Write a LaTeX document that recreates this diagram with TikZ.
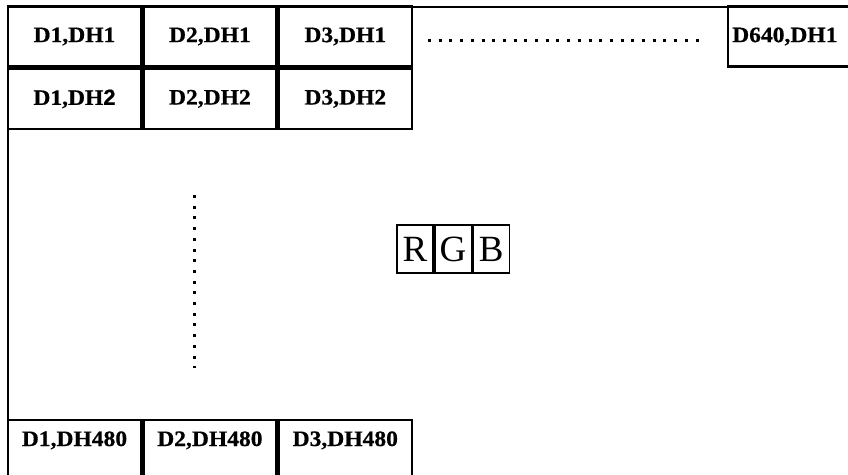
\documentclass[tikz,border=0pt]{standalone}
\usepackage{fontspec}
\setmainfont{Liberation Serif}
\newfontfamily\cellfont[FakeStretch=1.07, FakeBold=0.6]{Liberation Serif}
\newfontfamily\twofont[FakeBold=0.6]{Liberation Sans}
\usetikzlibrary{positioning}
\tikzset{
  cell/.style={draw, line width=2.4pt, minimum width=133pt, minimum height=60pt, inner sep=0pt,
    font=\cellfont\bfseries\fontsize{22}{22}\selectfont},
  lastcell/.style={cell, text height=14pt, text depth=4pt},
  rgbbox/.style={draw, line width=1.6pt, minimum width=36.5pt, minimum height=48pt, inner sep=0pt,
    font=\fontsize{37}{37}\selectfont},
  dotline/.style={line width=3pt, dash pattern=on 3pt off 7.7pt}
}
\begin{document}
\begin{tikzpicture}[x=1pt,y=-1pt]
\useasboundingbox (0,0) rectangle (848,474);

\draw[line width=1.6pt] (8,490)--(8,7)--(870,7);

\node[cell] (c11) at (74.5,36.5) {D1,DH1};
\node[cell, right=0pt of c11] (c21) {D2,DH1};
\node[cell, right=0pt of c21] (c31) {D3,DH1};
\node[cell, anchor=west] (c641) at (727,36.5) {\hspace*{4pt}D640,DH1\hspace*{24pt}};

\node[cell, below=0pt of c11] (c12) {D1,DH{\twofont 2}};
\node[cell, below=0pt of c21] (c22) {D2,DH2};
\node[cell, below=0pt of c31] (c32) {D3,DH2};

\node[lastcell] (c1n) at (74.5,450) {\raisebox{9pt}{D1,DH480}};
\node[lastcell, right=0pt of c1n] (c2n) {\raisebox{9pt}{D2,DH480}};
\node[lastcell, right=0pt of c2n] (c3n) {\raisebox{9pt}{D3,DH480}};

\coordinate (hdotA) at (428,40);
\coordinate (hdotB) at (700,40);
\draw[dotline] (hdotA)--(hdotB);
\coordinate (vdotA) at (194,195);
\coordinate (vdotB) at (194,368);
\draw[dotline] (vdotA)--(vdotB);

\node[rgbbox] (r) at (415,249) {R};
\node[rgbbox, right=0pt of r] (g) {G};
\node[rgbbox, right=0pt of g] (b) {B};
\end{tikzpicture}
\end{document}
